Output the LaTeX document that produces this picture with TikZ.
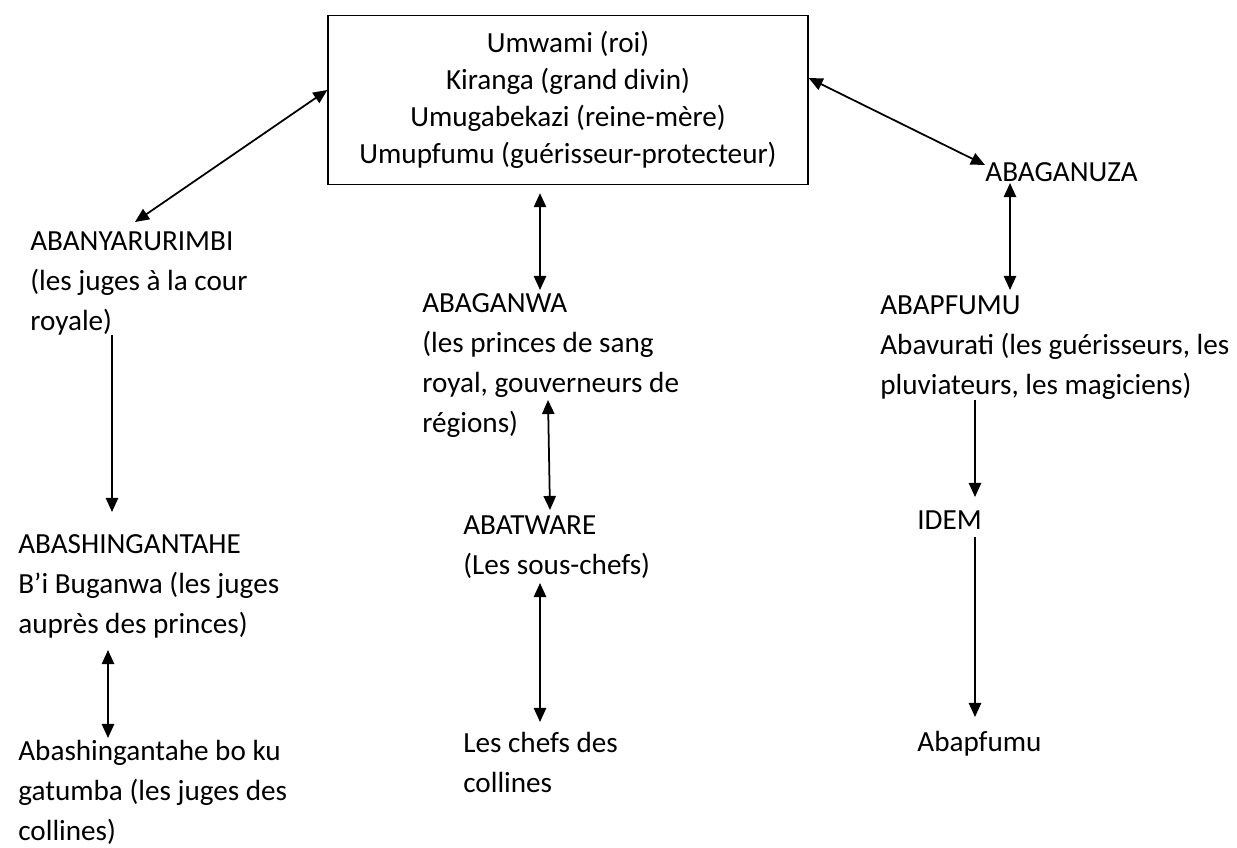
\documentclass[tikz,border=0pt]{standalone}
\usepackage{fontspec}
\setmainfont{Carlito}
\usetikzlibrary{arrows.meta,calc}
\begin{document}
\begin{tikzpicture}[x=0.02cm,y=-0.02cm,
  txt/.style={font=\fontsize{16.6}{22.7}\selectfont,inner sep=0pt,align=left,anchor=base west},
  fl/.style={line width=1pt,>={Triangle[length=8pt,width=7pt]}}]
\useasboundingbox (0,0) rectangle (1237,848);
\node[draw,line width=0.8pt,minimum width=9.6cm,minimum height=3.38cm,align=center,
  font=\fontsize{16.6}{21}\selectfont] (roi) at (568,100)
  {Umwami (roi)\\Kiranga (grand divin)\\Umugabekazi (reine-mère)\\Umupfumu (guérisseur-protecteur)};
\node[txt] (nyaru) at (30,330) {ABANYARURIMBI\\(les juges à la cour\\royale)};
\node[txt] (shing) at (18,633) {ABASHINGANTAHE\\B’i Buganwa (les juges\\auprès des princes)};
\node[txt] (colL) at (18,840) {Abashingantahe bo ku\\gatumba (les juges des\\collines)};
\node[txt] (ganwa) at (422,432) {ABAGANWA\\(les princes de sang\\royal, gouverneurs de\\régions)};
\node[txt] (twar) at (463,574) {ABATWARE\\(Les sous-chefs)};
\node[txt] (chefs) at (463,792) {Les chefs des\\collines};
\node[txt] (ganuza) at (985,181) {ABAGANUZA};
\node[txt] (pfumu) at (880,394) {ABAPFUMU\\Abavurati (les guérisseurs, les\\pluviateurs, les magiciens)};
\node[txt] (idem) at (917,529) {IDEM};
\node[txt] (pfumu2) at (917,751) {Abapfumu};
\draw[fl,<->] ($(roi.west)+(0,-10)$) -- ($(nyaru.base west)+(105,-108)$);
\draw[fl,<->] ($(roi.east)+(0,-22)$) -- ($(ganuza.base west)+(0,-16)$);
\draw[fl,<->] ($(roi.south)+(-28,8)$) -- ($(ganwa.base west)+(118,-142)$);
\draw[fl,<->] ($(ganwa.base west)+(126,-32)$) -- ($(twar.base west)+(87,-64)$);
\draw[fl,<->] ($(twar.base west)+(77,9)$) -- ($(chefs.base west)+(77,-70)$);
\draw[fl,->] ($(nyaru.base west)+(82,5)$) -- ($(shing.base west)+(94,-121)$);
\draw[fl,<->] ($(shing.base west)+(90,17)$) -- ($(colL.base west)+(90,-102)$);
\draw[fl,<->] ($(ganuza.base west)+(25,2)$) -- ($(pfumu.base west)+(130,-104)$);
\draw[fl,->] ($(pfumu.base west)+(95,6)$) -- ($(idem.base west)+(58,-32)$);
\draw[fl,->] ($(idem.base west)+(58,8)$) -- ($(pfumu2.base west)+(58,-34)$);
\end{tikzpicture}
\end{document}
